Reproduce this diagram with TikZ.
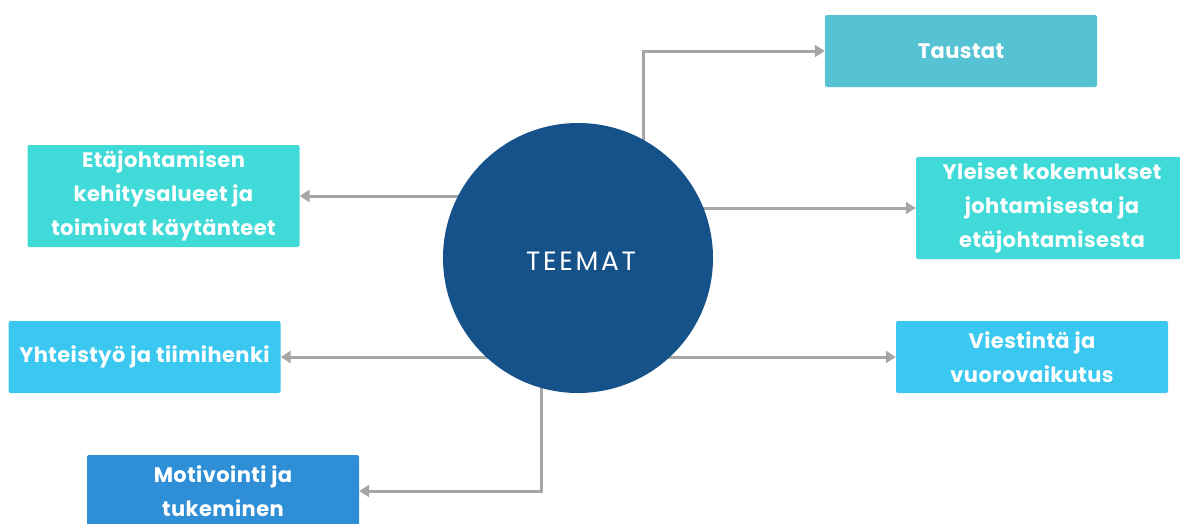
\documentclass[tikz,border=0pt]{standalone}
\usepackage{fontspec}
\setmainfont{Poppins}[BoldFont={Poppins Bold}, BoldFeatures={LetterSpace=2}]
\newfontfamily\lightfont{Poppins}[LetterSpace=10]
\usetikzlibrary{arrows.meta,backgrounds}
\definecolor{cTau}{HTML}{56C3D4}
\definecolor{cTurq}{HTML}{40DAD8}
\definecolor{cSky}{HTML}{3AC8F0}
\definecolor{cMot}{HTML}{2E8FD6}
\definecolor{cCirc}{HTML}{15528A}
\definecolor{cArr}{HTML}{A6A6A6}
\tikzset{
  theme/.style={rectangle, rounded corners=2pt, text=white, align=center,
    font=\bfseries\fontsize{21}{34}\selectfont, minimum width=272pt, inner sep=0pt},
  arr/.style={draw=cArr, line width=3pt, -{Triangle[length=10pt,width=12pt]}},
}
\begin{document}
\begin{tikzpicture}[x=1pt,y=-1pt]
\useasboundingbox (0,0) rectangle (1180,523);
\begin{scope}
\clip (0,0) rectangle (1180,523);
\node[circle, fill=cCirc, minimum size=270pt, inner sep=0pt] (c) at (578,258) {};
\node[text=white, font=\lightfont\fontsize{26.5}{30}\selectfont] (lbl) at (581,261) {TEEMAT};
\node[theme, fill=cTau, minimum height=72pt] (t) at (961,51) {Taustat};
\node[theme, fill=cTurq, minimum height=102pt] (e) at (163.5,196) {Etäjohtamisen\\kehitysalueet ja\\toimivat käytänteet};
\node[theme, fill=cTurq, minimum height=102pt] (y) at (1052,208) {Yleiset kokemukset\\johtamisesta ja\\etäjohtamisesta};
\node[theme, fill=cSky, minimum height=72pt] (h) at (144.5,357) {Yhteistyö ja tiimihenki};
\node[theme, fill=cSky, minimum height=72pt] (v) at (1032,357) {Viestintä ja\\vuorovaikutus};
\node[theme, fill=cMot, minimum height=72pt] (m) at (223,491) {Motivointi ja\\tukeminen};
\begin{scope}[on background layer]
\draw[arr] ([xshift=65pt]c.center) |- (t.west);
\draw[arr] (c.center |- e.east) -- (e.east);
\draw[arr] (c.center |- y.west) -- (y.west);
\draw[arr] (c.center |- h.east) -- (h.east);
\draw[arr] (c.center |- v.west) -- (v.west);
\draw[arr] ([xshift=-37pt]c.center) |- (m.east);
\end{scope}
\end{scope}
\end{tikzpicture}
\end{document}
